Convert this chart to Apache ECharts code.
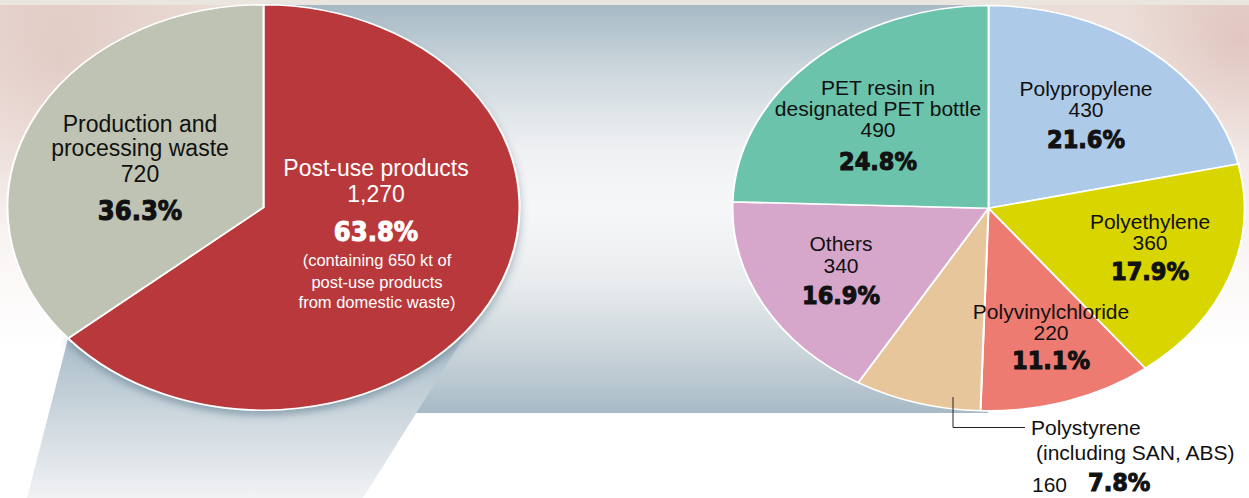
<!DOCTYPE html>
<html><head><meta charset="utf-8">
<script src="https://cdn.jsdelivr.net/npm/echarts@6/dist/echarts.min.js"></script>
<style>
html,body{margin:0;padding:0;width:1249px;height:498px;overflow:hidden;background:#fff}
#bg,#labels{position:absolute;left:0;top:0;width:1249px;height:498px}
#pies{position:absolute;left:0;top:0;width:1249px;height:629px;transform:scaleY(0.7917);transform-origin:0 0}
</style></head><body>
<div id="bg"></div><div id="pies"></div><div id="labels"></div>
<script>
// ---- data ----
const sourceCategories = ['Post-use products', 'Production and\nprocessing waste'];
const sourceValues = [1270, 720];
const sourcePercents = ['63.8%', '36.3%'];
const postUseNote = '(containing 650 kt of\npost-use products\nfrom domestic waste)';

const resinCategories = ['Polypropylene', 'Polyethylene', 'Polyvinylchloride',
  'Polystyrene\n(including SAN, ABS)', 'Others', 'PET resin in\ndesignated PET bottle'];
const resinValues = [430, 360, 220, 160, 340, 490];
const resinPercents = ['21.6%', '17.9%', '11.1%', '7.8%', '16.9%', '24.8%'];

// ---- styles ----
const sourceColors = ['#b9393a', '#bfc3b3'];
const resinColors = ['#adcae9', '#d9d500', '#ee7b71', '#e8c69b', '#d7a6cb', '#6ac3aa'];
const REG = '"Liberation Sans", Arial, Helvetica, sans-serif';
const BOLD = '"DejaVu Sans Condensed", "DejaVu Sans", sans-serif';

// ---- background layer ----
const bg = echarts.init(document.getElementById('bg'), null, {renderer: 'svg'});
bg.setOption({
  animation: false,
  graphic: [
    {type: 'rect', shape: {x: 0, y: 0, width: 1249, height: 498}, silent: true,
     style: {fill: new echarts.graphic.LinearGradient(0, 0, 0, 1, [
       {offset: 0, color: '#eadcd6'}, {offset: 0.3, color: '#f2e9e6'},
       {offset: 0.55, color: '#fbf8f7'}, {offset: 0.7, color: '#ffffff'}, {offset: 1, color: '#ffffff'}])}},
    {type: 'circle', shape: {cx: 60, cy: 60, r: 180}, silent: true,
     style: {fill: new echarts.graphic.RadialGradient(0.5, 0.5, 0.5, [
       {offset: 0, color: 'rgba(200,150,140,0.28)'}, {offset: 1, color: 'rgba(200,150,140,0)'}])}},
    {type: 'circle', shape: {cx: 1240, cy: 40, r: 120}, silent: true,
     style: {fill: new echarts.graphic.RadialGradient(0.5, 0.5, 0.5, [
       {offset: 0, color: 'rgba(200,140,130,0.3)'}, {offset: 1, color: 'rgba(200,140,130,0)'}])}},
    {type: 'rect', shape: {x: 0, y: 0, width: 1249, height: 5}, silent: true, style: {fill: '#ebe5df'}},
    {type: 'rect', shape: {x: 265, y: 5, width: 723, height: 408}, silent: true,
     style: {fill: new echarts.graphic.LinearGradient(0, 0, 0, 1, [
       {offset: 0, color: '#a6b9c5'}, {offset: 0.15, color: '#cbd6dc'},
       {offset: 0.35, color: '#eef0f2'}, {offset: 0.5, color: '#f6f7f8'},
       {offset: 0.68, color: '#e9ecee'}, {offset: 0.86, color: '#c8d3d9'},
       {offset: 1, color: '#a7bac6'}])}},
    {type: 'polygon', shape: {points: [[78, 300], [487, 300], [363, 498], [27, 498]]}, silent: true,
     style: {fill: new echarts.graphic.LinearGradient(0, 0, 0, 1, [
       {offset: 0, color: '#9fb3c1'}, {offset: 0.25, color: '#aec0cb'},
       {offset: 1, color: '#f1f2f4'}])}}
  ]
});

// ---- pie layer (scaled vertically into ellipses) ----
const pies = echarts.init(document.getElementById('pies'), null, {renderer: 'svg'});
const pieBase = {
  type: 'pie', radius: [0, 256], startAngle: 90, clockwise: true, silent: true,
  label: {show: false}, labelLine: {show: false}, emphasis: {disabled: true},
  itemStyle: {borderColor: '#ffffff', borderWidth: 2}
};
pies.setOption({
  animation: false,
  series: [
    Object.assign({}, pieBase, {
      center: [263.5, 262],
      data: sourceCategories.map((n, i) => ({name: n, value: sourceValues[i],
        itemStyle: Object.assign({color: sourceColors[i]}, i === 0 ? {
          shadowBlur: 8, shadowOffsetY: 6, shadowColor: 'rgba(80,110,130,0.45)'} : {})}))
    }),
    Object.assign({}, pieBase, {
      center: [988.5, 263],
      data: resinCategories.map((n, i) => ({name: n, value: resinValues[i],
        itemStyle: {color: resinColors[i]}}))
    })
  ]
});

// ---- label layer ----
const fmt = v => v.toLocaleString('en-US');
const sourceLayout = [
  {x: 376, nameY: [167.5], valueY: 194, pctY: 231.5, color: '#ffffff', size: 23, pctSize: 27, noteY: [260, 281.5, 302]},
  {x: 140, nameY: [124, 147.5], valueY: 173.5, pctY: 210, color: '#111111', size: 23, pctSize: 27}
];
const resinLayout = [
  {x: 1086, nameY: [88], valueY: 109.5, pctY: 139},
  {x: 1150, nameY: [221], valueY: 242.5, pctY: 271},
  {x: 1051, nameY: [311], valueY: 332, pctY: 360.5},
  {align: 'left', nameX: [1031, 1036], nameY: [427.5, 452.5], valueX: 1032, valueY: 484, pctX: 1088, pctY: 482},
  {x: 841, nameY: [243], valueY: 265.5, pctY: 295},
  {x: 878, nameY: [87, 108.5], valueY: 129.5, pctY: 161}
];

function txt(text, x, y, font, color, align, heavy) {
  const style = {text: text, x: x, y: y, font: font, fill: color,
    align: align, verticalAlign: 'middle', textAlign: align, textVerticalAlign: 'middle'};
  if (heavy) { style.stroke = color; style.lineWidth = 1; }
  return {type: 'text', silent: true, x: 0, y: 0, style: style};
}
const els = [];
function addLabels(names, values, pcts, layout, defSize, defPct) {
  names.forEach((name, i) => {
    const L = layout[i];
    const col = L.color || '#111111';
    const size = L.size || defSize;
    const pctSize = L.pctSize || defPct;
    const al = L.align || 'center';
    name.split('\n').forEach((line, k) => {
      els.push(txt(line, L.nameX ? L.nameX[k] : L.x, L.nameY[k], size + 'px ' + REG, col, al));
    });
    els.push(txt(fmt(values[i]), L.valueX || L.x, L.valueY, size + 'px ' + REG, col, al));
    els.push(txt(pcts[i], L.pctX || L.x, L.pctY, 'bold ' + pctSize + 'px ' + BOLD, col, al, true));
    if (L.noteY) {
      postUseNote.split('\n').forEach((line, k) => {
        els.push(txt(line, L.x + 1, L.noteY[k], '16.5px ' + REG, col, al));
      });
    }
  });
}
addLabels(sourceCategories, sourceValues, sourcePercents, sourceLayout, 23, 27);
addLabels(resinCategories, resinValues, resinPercents, resinLayout, 21, 25);
els.push({type: 'polyline', silent: true,
  shape: {points: [[953, 397], [953, 427.5], [1025, 427.5]]},
  style: {stroke: '#222222', lineWidth: 1, fill: null}});

const labels = echarts.init(document.getElementById('labels'), null, {renderer: 'svg'});
labels.setOption({animation: false, graphic: els});
</script>
</body></html>
